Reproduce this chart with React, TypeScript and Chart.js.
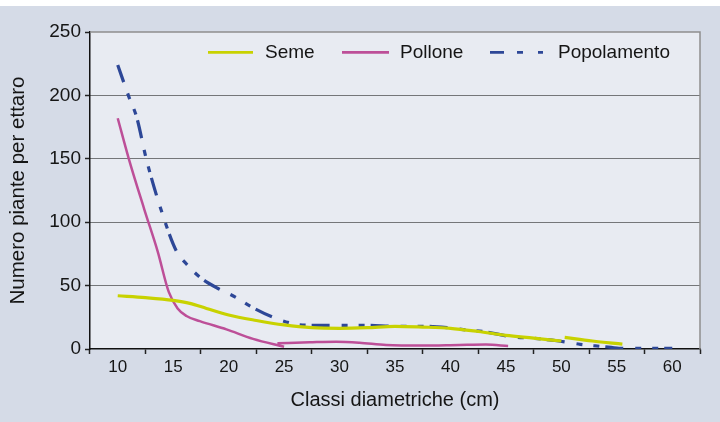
import React, { useEffect, useRef } from 'react';
import { Chart, registerables } from 'chart.js';

Chart.register(...registerables);

// ---- data ----
const categories = ['10', '15', '20', '25', '30', '35', '40', '45', '50', '55', '60'];
const seriesLabels = ['Seme', 'Pollone', 'Popolamento'];
const yMin = 0;
const yMax = 250;
const yStep = 50;

const semeX = [10, 12.5, 15, 16.5, 18, 20, 22.5, 25, 27.5, 30, 32.5, 35, 37.5, 40, 42.5, 45, 47.5, 50, 50.15, 50.3, 52.8, 55.5];
const semeY = [42, 40.5, 38.3, 36, 32, 26.8, 22.5, 19, 16.8, 16.3, 16.8, 17.9, 17.3, 16.3, 13.8, 10.8, 8.6, 6.3, null, 9.2, 6.3, 3.9];

const polloneX = [10, 11, 12.4, 13.6, 14.6, 15.4, 16.2, 17.4, 19.8, 22.2, 25, 24.7, 24.4, 27.3, 29.7, 31.8, 34.2, 37.5, 40.8, 43.2, 45.2];
const polloneY = [182, 150, 110, 77, 45, 32, 26, 22, 15.5, 8, 1.8, null, 4.5, 5.3, 5.8, 5, 3.2, 2.7, 3.2, 3.5, 2.4];

const popolX = [10, 11, 11.7, 12.6, 13.9, 15.3, 16.2, 17.5, 18.9, 20.7, 21.9, 24.3, 26.1, 27.5, 30, 32.5, 35, 37.5, 39.7, 41.5, 43.1, 45.5, 47.5, 49.6, 51.7, 52.9, 54.5, 55.2, 57.5, 60];
const popolY = [224, 199, 183, 149, 110, 77, 67, 56, 48.4, 40.5, 34, 24, 19.5, 18.7, 18.7, 18.7, 17.9, 17.9, 16.8, 15, 13.6, 9.7, 8.4, 6.5, 3.7, 2.6, 1.3, 0.6, 0.6, 0.6];

const FONT = '"Liberation Sans", Arial, Helvetica, sans-serif';
const TEXT = '#151515';
const COLORS = ['#c8d200', '#bd4f98', '#2d4797'];
const WIDTHS = [3.2, 2.5, 3.2];
const DASHES: number[][] = [[], [], [18, 12, 6, 11, 6, 6]];

const toPoints = (xs: number[], ys: (number | null)[]) => xs.map((x, i) => ({ x, y: ys[i] }));

const backgroundPlugin = {
  id: 'bgPlugin',
  beforeDraw(chart: any) {
    const { ctx, width, height, chartArea } = chart;
    ctx.save();
    ctx.fillStyle = '#ffffff';
    ctx.fillRect(0, 0, width, height);
    ctx.fillStyle = '#d5dbe7';
    ctx.fillRect(0, 6, width, height - 6);
    ctx.fillStyle = '#e8ebf2';
    ctx.fillRect(chartArea.left, chartArea.top, chartArea.right - chartArea.left, chartArea.bottom - chartArea.top);
    ctx.restore();
  },
  beforeDatasetsDraw(chart: any) {
    const { ctx, chartArea } = chart;
    ctx.save();
    ctx.strokeStyle = '#8e8e8e';
    ctx.lineWidth = 1.5;
    ctx.beginPath();
    ctx.moveTo(chartArea.left, chartArea.top);
    ctx.lineTo(chartArea.right, chartArea.top);
    ctx.lineTo(chartArea.right, chartArea.bottom);
    ctx.stroke();
    ctx.restore();
  },
};

const legendPlugin = {
  id: 'customLegend',
  afterDraw(chart: any) {
    const { ctx, chartArea } = chart;
    const left = chartArea.left;
    const top = chartArea.top;
    const lineStarts = [118, 252, 400];
    const lineLens = [45, 47, 54];
    const textStarts = [175, 310, 468];
    const legendDash = [[], [], [14, 13, 6, 15, 5, 20]];
    ctx.save();
    chart.data.datasets.forEach((ds: any, i: number) => {
      const ly = top + 20.3;
      ctx.strokeStyle = ds.borderColor;
      ctx.lineWidth = 2.8;
      ctx.setLineDash(legendDash[i]);
      ctx.beginPath();
      ctx.moveTo(left + lineStarts[i], ly);
      ctx.lineTo(left + lineStarts[i] + lineLens[i], ly);
      ctx.stroke();
      ctx.setLineDash([]);
      ctx.fillStyle = TEXT;
      ctx.font = `19px ${FONT}`;
      ctx.textBaseline = 'alphabetic';
      ctx.textAlign = 'left';
      ctx.fillText(ds.label, left + textStarts[i], top + 25.5);
    });
    ctx.restore();
  },
};

export default function App() {
  const canvasRef = useRef<HTMLCanvasElement | null>(null);

  useEffect(() => {
    document.body.style.margin = '0';
    const canvas = canvasRef.current;
    if (!canvas) return;
    const xs = [semeX, polloneX, popolX];
    const ys = [semeY, polloneY, popolY];
    const chart = new Chart(canvas, {
      type: 'line',
      data: {
        labels: categories,
        datasets: seriesLabels.map((label, i) => ({
          label,
          data: toPoints(xs[i], ys[i]) as any,
          borderColor: COLORS[i],
          backgroundColor: COLORS[i],
          borderWidth: WIDTHS[i],
          borderDash: DASHES[i],
          pointRadius: 0,
          cubicInterpolationMode: 'monotone',
          fill: false,
          spanGaps: false,
          xAxisID: 'xl',
          yAxisID: 'y',
        })),
      },
      options: {
        responsive: false,
        animation: false,
        events: [],
        layout: { padding: { top: 32, right: 20, left: 0, bottom: 0 } },
        plugins: {
          legend: { display: false },
          tooltip: { enabled: false },
        },
        scales: {
          x: {
            type: 'category',
            labels: categories,
            position: 'bottom',
            offset: true,
            grid: {
              offset: true,
              drawOnChartArea: false,
              drawTicks: true,
              tickLength: 5,
              tickColor: '#222',
              tickWidth: 1.5,
            },
            border: { display: true, color: '#111', width: 1.5 },
            ticks: {
              font: { family: FONT, size: 17 },
              color: TEXT,
              padding: 3,
              maxRotation: 0,
              autoSkip: false,
            },
            title: {
              display: true,
              text: 'Classi diametriche (cm)',
              font: { family: FONT, size: 20 },
              color: TEXT,
              padding: { top: 10, bottom: 10 },
            },
            afterFit: (s: any) => {
              s.height = 73;
            },
          },
          xl: {
            type: 'linear',
            min: 7.5,
            max: 62.5,
            display: false,
          },
          y: {
            type: 'linear',
            min: yMin,
            max: yMax,
            ticks: {
              stepSize: yStep,
              font: { family: FONT, size: 19 },
              color: TEXT,
              padding: 4,
            },
            grid: {
              color: (c: any) =>
                c.tick && (c.tick.value === yMin || c.tick.value === yMax) ? 'rgba(0,0,0,0)' : '#000',
              lineWidth: 1,
              drawTicks: true,
              tickLength: 5,
              tickColor: '#222',
              tickWidth: 1.5,
            },
            border: { display: true, color: '#111', width: 1.5, dash: [1, 1] },
            title: {
              display: true,
              text: 'Numero piante per ettaro',
              font: { family: FONT, size: 20.5 },
              color: TEXT,
              padding: { top: 6, bottom: 6 },
            },
            afterFit: (s: any) => {
              s.width = 90;
            },
          },
        },
      } as any,
      plugins: [backgroundPlugin, legendPlugin],
    });
    return () => chart.destroy();
  }, []);

  return (
    <div style={{ width: 720, height: 422 }}>
      <canvas ref={canvasRef} width={720} height={422} style={{ display: 'block', width: 720, height: 422 }} />
    </div>
  );
}
